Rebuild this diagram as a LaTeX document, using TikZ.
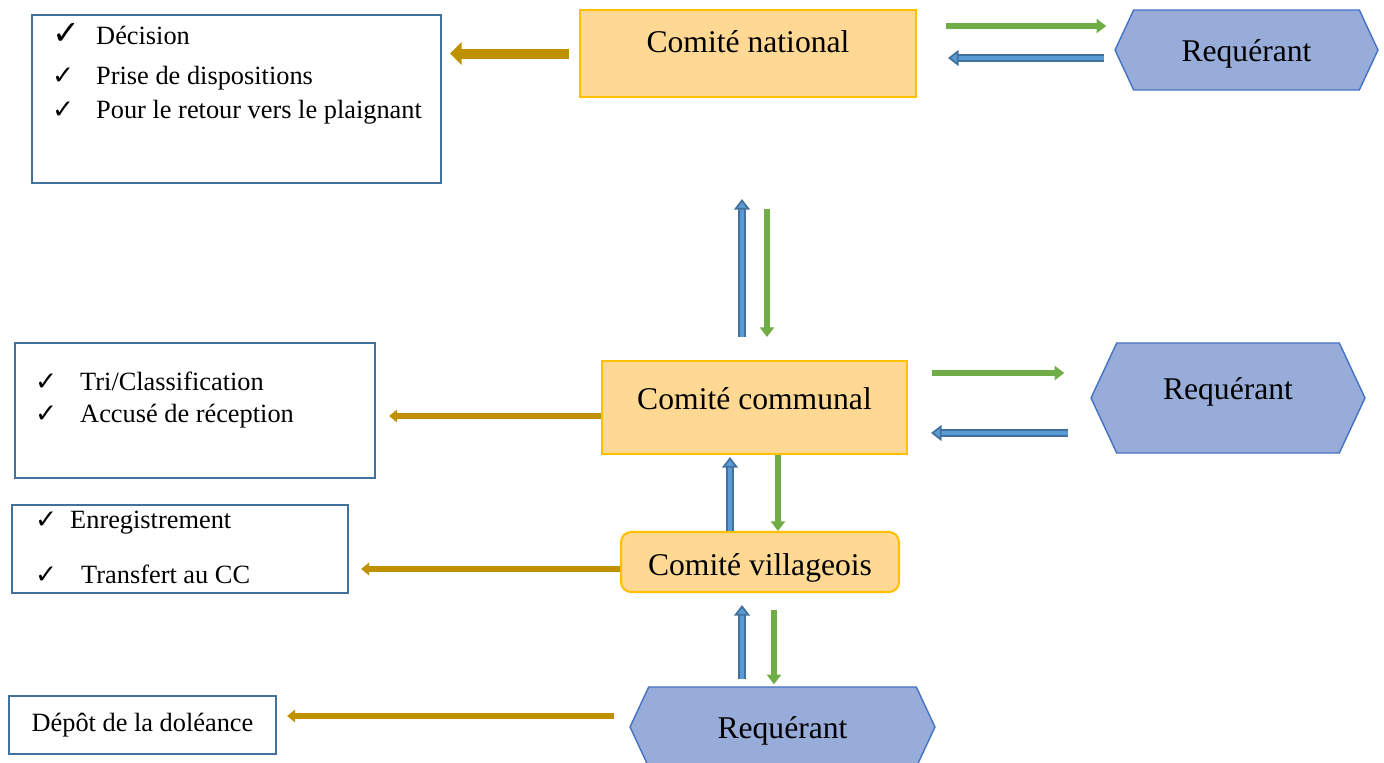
\documentclass[tikz,border=0pt]{standalone}
\usepackage{fontspec}
\setmainfont{Liberation Serif}
\newfontfamily\symb{DejaVu Sans}
\usetikzlibrary{shapes.symbols,arrows.meta}

\definecolor{comfill}{HTML}{FFD993}
\definecolor{comline}{HTML}{FFC000}
\definecolor{reqfill}{HTML}{98ACD9}
\definecolor{reqline}{HTML}{4472C4}
\definecolor{boxline}{HTML}{41719C}
\definecolor{flgreen}{HTML}{70AD47}
\definecolor{flblue}{HTML}{5B9BD5}
\definecolor{flblueline}{HTML}{41719C}
\definecolor{flgold}{HTML}{BF9000}

\newcommand{\coche}[1][0.9cm]{\makebox[#1][l]{\symb ✓}}

\tikzset{
  titre/.style={font=\fontsize{18}{22}\selectfont},
  comite/.style={draw=comline, fill=comfill, line width=1.2pt, titre},
  requerant/.style={signal, signal to=west and east, signal pointer angle=130,
    draw=reqline, fill=reqfill, line width=0.8pt, titre},
  liste/.style={draw=boxline, line width=1.3pt, inner sep=0pt},
  listtext/.style={anchor=north west, align=left, inner sep=0pt, font=\fontsize{15}{18}\selectfont},
  aller/.style={draw=flgreen, line width=3.4pt, -{Triangle[width=8pt,length=5.5pt]}},
  retour/.style={draw=flblueline, double=flblue, double distance=2.2pt, line width=1pt,
    -{Triangle[width=9pt,length=6pt,fill=flblue]}},
  sortie/.style={draw=flgold, line width=3.4pt, -{Triangle[width=7pt,length=4.5pt]}}
}

\begin{document}
\begin{tikzpicture}[x=0.02cm, y=-0.02cm]
\useasboundingbox (0,0) rectangle (1384,762);

% comites
\node[comite, minimum width=6.72cm, minimum height=1.74cm,
  label={[titre, yshift=0.23cm]center:Comité national}] (nat) at (748,53.5) {};
\node[comite, minimum width=6.1cm, minimum height=1.86cm,
  label={[titre, yshift=0.17cm]center:Comité communal}] (com) at (754.5,407.5) {};
\node[comite, rounded corners=0.2cm, minimum width=5.56cm, minimum height=1.2cm,
  label={[titre, yshift=-0.12cm]center:Comité villageois}] (vil) at (760,562) {};

% requerants
\node[requerant, minimum width=5.26cm, minimum height=1.6cm,
  label={[titre, yshift=-0.08cm]center:Requérant}] (req1) at (1246.5,50) {};
\node[requerant, minimum width=5.48cm, minimum height=2.2cm,
  label={[titre, yshift=0.12cm]center:Requérant}] (req2) at (1228,398) {};
\node[requerant, minimum width=6.1cm, minimum height=1.6cm,
  label={[titre, yshift=-0.08cm]center:Requérant}] (req3) at (782.5,727) {};

% listes des taches
\node[liste, minimum width=8.18cm, minimum height=3.36cm,
  label={[listtext, xshift=0.42cm, yshift=-0.18cm]north west:%
  {\fontsize{19}{18}\selectfont\coche[0.88cm]}Décision\\[5pt]
  \coche[0.88cm]Prise de dispositions\\[1.5pt]
  \coche[0.88cm]Pour le retour vers le plaignant}] (dec) at (236.5,99) {};
\node[liste, minimum width=7.2cm, minimum height=2.7cm,
  label={[listtext, xshift=0.42cm, yshift=-0.6cm]north west:%
  \coche Tri/Classification\\
  \coche Accusé de réception}] (tri) at (195,410.5) {};
\node[liste, minimum width=6.72cm, minimum height=1.76cm,
  label={[listtext, xshift=0.48cm, yshift=-0.14cm]north west:%
  \coche[0.7cm]Enregistrement\\[13pt]
  \coche[0.92cm]Transfert au CC}] (enr) at (180,549) {};
\node[liste, minimum width=5.34cm, minimum height=1.16cm, font=\fontsize{15}{18}\selectfont] (dep) at (142.5,725) {Dépôt de la doléance};

% fleches vers les listes
\draw[sortie, line width=5.7pt, -{Triangle[width=12.5pt,length=6.5pt]}, shorten <=0.2cm, shorten >=0.16cm]
  (nat.west) -- (nat.west -| dec.east);
\draw[sortie, shorten >=0.26cm] ([yshift=-0.17cm]com.west) -- ([yshift=-0.17cm]com.west -| tri.east);
\draw[sortie, shorten >=0.24cm] ([yshift=-0.14cm]vil.west) -- ([yshift=-0.14cm]vil.west -| enr.east);
\draw[sortie, shorten <=0.3cm, shorten >=0.2cm] ([yshift=0.22cm]req3.west) -- ([yshift=0.22cm]req3.west -| dep.east);

% echanges avec les requerants
\draw[aller, shorten <=0.58cm, shorten >=0.16cm] ([yshift=0.55cm]nat.east) -- ([yshift=0.55cm]nat.east -| req1.west);
\draw[retour, shorten <=0.2cm, shorten >=0.62cm] ([yshift=-0.16cm]req1.west) -- ([yshift=-0.16cm]req1.west -| nat.east);
\draw[aller, shorten <=0.48cm, shorten >=0.52cm] ([yshift=0.69cm]com.east) -- ([yshift=0.69cm]com.east -| req2.west);
\draw[retour, shorten <=0.44cm, shorten >=0.46cm] ([yshift=-0.7cm]req2.west) -- ([yshift=-0.7cm]req2.west -| com.east);

% remontees et descentes
\draw[retour, shorten <=0.46cm, shorten >=2.02cm] ([xshift=-0.25cm]com.north) -- ([xshift=-0.25cm]com.north |- nat.south);
\draw[aller, shorten <=2.22cm, shorten >=0.46cm] ([xshift=0.25cm]com.north |- nat.south) -- ([xshift=0.25cm]com.north);
\draw[retour, shorten >=0.04cm] ([xshift=-0.6cm]vil.north) -- ([xshift=-0.6cm]vil.north |- com.south);
\draw[aller] ([xshift=0.36cm]vil.north |- com.south) -- ([xshift=0.36cm]vil.north);
\draw[retour, shorten <=0.14cm, shorten >=0.24cm] ([xshift=-0.36cm]vil.south |- req3.north) -- ([xshift=-0.36cm]vil.south);
\draw[aller, shorten <=0.34cm, shorten >=0.04cm] ([xshift=0.28cm]vil.south) -- ([xshift=0.28cm]vil.south |- req3.north);
\end{tikzpicture}
\end{document}
